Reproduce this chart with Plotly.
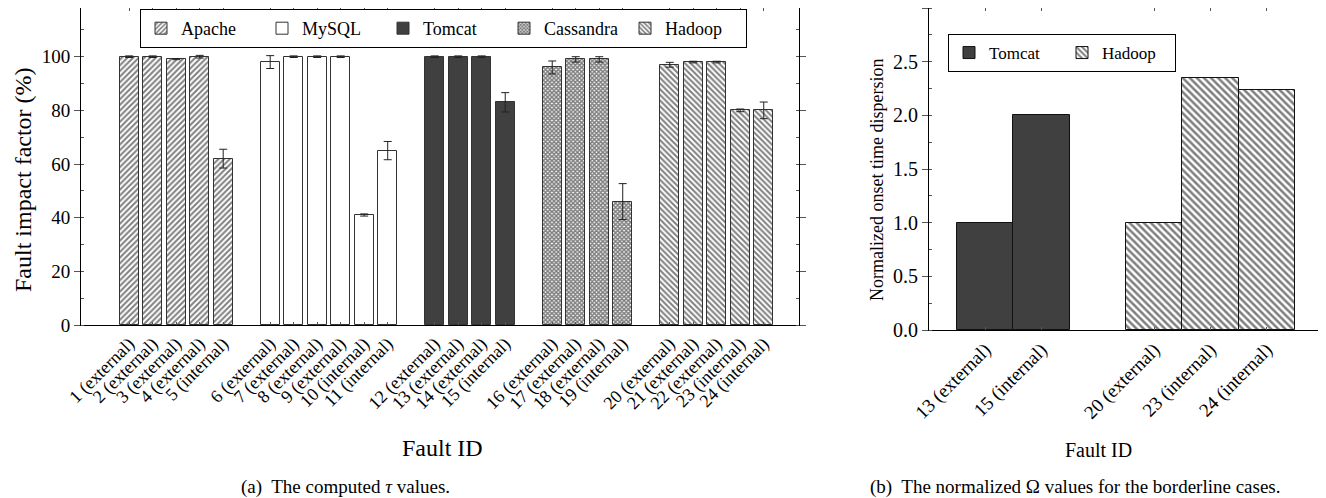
import plotly.graph_objects as go

# ---------------- data: left chart (fault impact factor) ----------------
systems = ["Apache", "MySQL", "Tomcat", "Cassandra", "Hadoop"]
fault_labels = {
    "Apache": ["1 (external)", "2 (external)", "3 (external)", "4 (external)", "5 (internal)"],
    "MySQL": ["6 (external)", "7 (external)", "8 (external)", "9 (external)", "10 (internal)", "11 (internal)"],
    "Tomcat": ["12 (external)", "13 (external)", "14 (external)", "15 (internal)"],
    "Cassandra": ["16 (external)", "17 (external)", "18 (external)", "19 (internal)"],
    "Hadoop": ["20 (external)", "21 (external)", "22 (external)", "23 (internal)", "24 (internal)"],
}
impact_values = {
    "Apache": [100, 100, 99.1, 100, 62],
    "MySQL": [98, 100, 100, 100, 41, 65],
    "Tomcat": [100, 100, 100, 83],
    "Cassandra": [96, 99, 99, 46],
    "Hadoop": [97, 98, 98, 80, 80],
}
impact_errors = {
    "Apache": [0.3, 0.3, 0.2, 0.5, 3.5],
    "MySQL": [2.4, 0.3, 0.3, 0.3, 0.4, 3.4],
    "Tomcat": [0.3, 0.3, 0.3, 3.6],
    "Cassandra": [2.4, 1.0, 1.0, 6.7],
    "Hadoop": [0.9, 0.3, 0.3, 0.5, 3.1],
}

# ---------------- data: right chart (normalized onset time dispersion) ----------------
right_systems = ["Tomcat", "Hadoop"]
right_labels = {
    "Tomcat": ["13 (external)", "15 (internal)"],
    "Hadoop": ["20 (external)", "23 (internal)", "24 (internal)"],
}
right_values = {
    "Tomcat": [1.0, 2.0],
    "Hadoop": [1.0, 2.35, 2.24],
}

# ---------------- page geometry (page body has an 8px margin) ----------------
OFF = 8
FW, FH = 1326 - OFF, 498 - OFF


def PX(x):
    return (x - OFF) / FW


def PY(y):
    return 1 - (y - OFF) / FH


# ---------------- styles ----------------
FONT = "Liberation Serif, Times New Roman, serif"
LINE = dict(color="#333333", width=1)
styles = {
    "Apache": dict(color="white", pattern=dict(shape="/", fgcolor="#000000", bgcolor="white", size=4, solidity=0.5)),
    "MySQL": dict(color="white"),
    "Tomcat": dict(color="#404040"),
    "Cassandra": dict(color="white", pattern=dict(shape="x", fgcolor="#000000", bgcolor="white", size=3, solidity=0.75)),
    "Hadoop": dict(color="white", pattern=dict(shape="\\", fgcolor="#000000", bgcolor="white", size=4, solidity=0.5)),
}

fig = go.Figure()

# left chart: slots with one empty slot between groups
tickvals, ticktext = [], []
pos = 0
for s in systems:
    xs = []
    for lab in fault_labels[s]:
        xs.append(pos)
        tickvals.append(pos)
        ticktext.append(lab)
        pos += 1
    pos += 1
    fig.add_trace(go.Bar(
        x=xs, y=impact_values[s], name=s, width=0.82,
        marker=dict(line=LINE, **styles[s]),
        error_y=dict(type="data", array=impact_errors[s], color="#222222", thickness=1, width=4),
        xaxis="x", yaxis="y", legend="legend",
    ))

# right chart: adjacent bars, one empty slot between groups
rtickvals, rticktext = [], []
pos = 0
for s in right_systems:
    xs = []
    for lab in right_labels[s]:
        xs.append(pos)
        rtickvals.append(pos)
        rticktext.append(lab)
        pos += 1
    pos += 1
    rs = dict(styles[s])
    if "pattern" in rs:
        rs["pattern"] = dict(rs["pattern"], size=5)
    fig.add_trace(go.Bar(
        x=xs, y=right_values[s], name=s, width=1.0,
        marker=dict(line=dict(color="#111111", width=1), **rs),
        xaxis="x2", yaxis="y2", legend="legend2",
    ))

axis_common = dict(showline=True, linecolor="black", linewidth=1, mirror="ticks",
                   showgrid=False, zeroline=False, tickcolor="#555555", automargin=False)

# left: y=0 at px 325, y=100 at px 56.7 -> top of plot at px 8
left_top = (325 - OFF) / ((325 - 56.7) / 100)

fig.update_layout(
    width=FW, height=FH,
    margin=dict(l=0, r=0, t=0, b=0, autoexpand=False),
    paper_bgcolor="white", plot_bgcolor="white",
    font=dict(family=FONT, color="black"),
    bargap=0,
    xaxis=dict(domain=[PX(81), PX(799)], range=[-2.05, 28.5],
               tickmode="array", tickvals=tickvals, ticktext=ticktext,
               tickangle=-45, tickfont=dict(size=18), ticks="inside", ticklen=3,
               anchor="y", **axis_common),
    yaxis=dict(domain=[PY(325), 1.0], range=[0, left_top],
               tickmode="array", tickvals=[0, 20, 40, 60, 80, 100],
               tickfont=dict(size=19), ticks="outside", ticklen=6,
               minor=dict(dtick=10, ticks="inside", ticklen=3, tickcolor="#555555"),
               anchor="x", **axis_common),
    xaxis2=dict(domain=[PX(929), PX(1323)], range=[-1.0, 6.0],
                tickmode="array", tickvals=rtickvals, ticktext=rticktext,
                tickangle=-45, tickfont=dict(size=19), ticks="inside", ticklen=3,
                anchor="y2", **axis_common),
    yaxis2=dict(domain=[PY(330), 1.0], range=[0, 3.0],
                tickmode="array", tickvals=[0, 0.5, 1.0, 1.5, 2.0, 2.5, 3.0],
                ticktext=["0.0", "0.5", "1.0", "1.5", "2.0", "2.5", "3.0"],
                tickfont=dict(size=20), ticks="outside", ticklen=6,
                minor=dict(dtick=0.25, ticks="inside", ticklen=3, tickcolor="#555555"),
                anchor="x2", **axis_common),
    legend=dict(orientation="h", x=PX(140), xanchor="left", y=PY(9), yanchor="top",
                font=dict(size=18, family=FONT), bordercolor="black", borderwidth=1,
                bgcolor="white", entrywidth=76, entrywidthmode="pixels", tracegroupgap=0),
    legend2=dict(orientation="h", x=PX(948), xanchor="left", y=PY(34), yanchor="top",
                 font=dict(size=17, family=FONT), bordercolor="black", borderwidth=1,
                 bgcolor="white", entrywidth=68, entrywidthmode="pixels"),
    showlegend=True,
    annotations=[
        dict(text="Fault impact factor (%)", x=PX(23), y=PY(180), xref="paper", yref="paper",
             textangle=-90, showarrow=False, font=dict(size=24, family=FONT), xanchor="center", yanchor="middle"),
        dict(text="Fault ID", x=PX(442), y=PY(448), xref="paper", yref="paper",
             showarrow=False, font=dict(size=24, family=FONT), xanchor="center", yanchor="middle"),
        dict(text="(a)  The computed <i>τ</i> values.", x=PX(345), y=PY(487), xref="paper", yref="paper",
             showarrow=False, font=dict(size=19, family=FONT), xanchor="center", yanchor="middle"),
        dict(text="Normalized onset time dispersion", x=PX(877), y=PY(180), xref="paper", yref="paper",
             textangle=-90, showarrow=False, font=dict(size=18, family=FONT), xanchor="center", yanchor="middle"),
        dict(text="Fault ID", x=PX(1098), y=PY(450), xref="paper", yref="paper",
             showarrow=False, font=dict(size=20, family=FONT), xanchor="center", yanchor="middle"),
        dict(text="(b)  The normalized Ω values for the borderline cases.", x=PX(1075), y=PY(487),
             xref="paper", yref="paper",
             showarrow=False, font=dict(size=19, family=FONT), xanchor="center", yanchor="middle"),
    ],
)

fig.write_html("out.html")
